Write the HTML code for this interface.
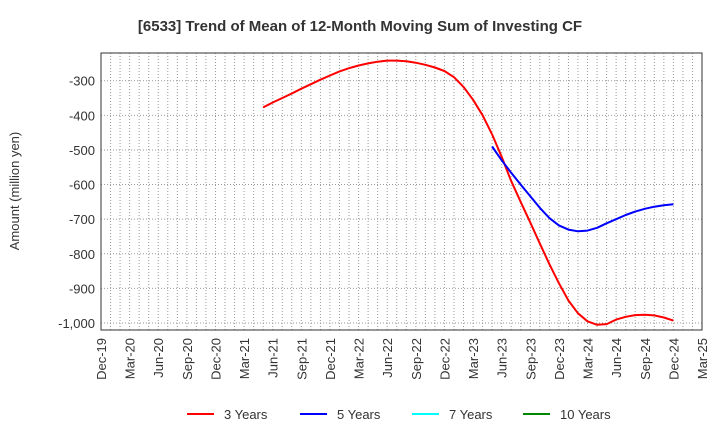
<!DOCTYPE html>
<html><head><meta charset="utf-8"><style>
body{margin:0;background:#fff;}
svg{display:block;font-family:"Liberation Sans",sans-serif;}
</style></head><body>
<svg id="chart" width="720" height="440" viewBox="0 0 720 440">
<text x="360" y="31" text-anchor="middle" font-size="15" font-weight="bold" fill="#333">[6533]  Trend of Mean of 12-Month Moving Sum of Investing CF</text>
<text transform="translate(19,191) rotate(-90)" text-anchor="middle" font-size="13" fill="#333">Amount (million yen)</text>
<g id="grid"></g><g id="axes"></g><g id="series"></g>
<g font-size="13" fill="#333">
<line x1="187" y1="414" x2="214" y2="414" stroke="#f00" stroke-width="2"/><text x="224" y="419">3 Years</text>
<line x1="300" y1="414" x2="327" y2="414" stroke="#00f" stroke-width="2"/><text x="337" y="419">5 Years</text>
<line x1="412" y1="414" x2="439" y2="414" stroke="#0ff" stroke-width="2"/><text x="449" y="419">7 Years</text>
<line x1="523" y1="414" x2="550" y2="414" stroke="#080" stroke-width="2"/><text x="560" y="419">10 Years</text>
</g>
</svg>
<script>
const xTickLabels=["Dec-19","Mar-20","Jun-20","Sep-20","Dec-20","Mar-21","Jun-21","Sep-21","Dec-21","Mar-22","Jun-22","Sep-22","Dec-22","Mar-23","Jun-23","Sep-23","Dec-23","Mar-24","Jun-24","Sep-24","Dec-24","Mar-25"];
const yTicks=[-300,-400,-500,-600,-700,-800,-900,-1000];
const yTickLabels=["-300","-400","-500","-600","-700","-800","-900","-1,000"];
const red3Start=17;
const red3=[-377,-363,-350,-337,-323,-310,-297,-285,-273,-264,-256,-250,-245,-242,-242,-244,-248,-254,-262,-272,-290,-318,-355,-400,-455,-520,-590,-650,-710,-770,-830,-885,-935,-972,-995,-1005,-1003,-990,-982,-977,-976,-978,-984,-993];
const blue5Start=41;
const blue5=[-490,-530,-566,-600,-634,-667,-697,-718,-730,-735,-733,-725,-712,-700,-688,-678,-670,-664,-660,-657];
const L=101,R=702,T=53,B=330,NM=63;
const x=m=>L+(R-L)*m/NM;
const y=v=>80.7+(-300-v)*0.3462;
const ns="http://www.w3.org/2000/svg";
function mk(tag,attrs,parent){const e=document.createElementNS(ns,tag);for(const k in attrs)e.setAttribute(k,attrs[k]);parent.appendChild(e);return e;}
const grid=document.getElementById('grid'),axes=document.getElementById('axes'),ser=document.getElementById('series');
for(let m=1;m<NM;m++){const l=mk('line',{x1:x(m),x2:x(m),y1:T,y2:B,stroke:'#999','stroke-dasharray':'1,2','stroke-width':1},grid);

}
yTicks.forEach((v,i)=>{const l=mk('line',{x1:L,x2:R,y1:y(v),y2:y(v),stroke:'#999','stroke-dasharray':'1,2'},grid);


const t=mk('text',{x:L-6,y:y(v)+5,'text-anchor':'end','font-size':13,fill:'#333'},axes);t.textContent=yTickLabels[i];

});
xTickLabels.forEach((s,i)=>{const xx=x(i*3);const t=mk('text',{transform:`translate(${xx+5},${B+8}) rotate(-90)`,'text-anchor':'end','font-size':13,fill:'#333'},axes);t.textContent=s;

});
const fr=mk('rect',{x:L,y:T,width:R-L,height:B-T,fill:'none',stroke:'#333','stroke-width':1},axes);


function line(arr,start,color,name){const p=arr.map((v,i)=>x(start+i).toFixed(1)+','+y(v).toFixed(1)).join(' ');
const e=mk('polyline',{points:p,fill:'none',stroke:color,'stroke-width':2,'stroke-linejoin':'round'},ser);

}
line(red3,red3Start,'#f00','line-3-years');
line(blue5,blue5Start,'#00f','line-5-years');
</script>
</body></html>
